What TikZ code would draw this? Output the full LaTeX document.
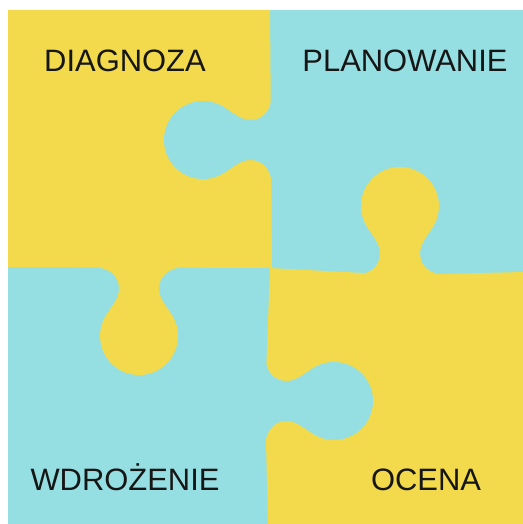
\documentclass[tikz,border=0pt]{standalone}
\usepackage{fontspec}
\setmainfont{Liberation Sans}
\usepackage{tikz}
\usetikzlibrary{positioning}
\usepackage{xcolor}

\definecolor{puzzleyellow}{RGB}{242,218,76}
\definecolor{puzzlecyan}{RGB}{149,223,226}
\definecolor{labelink}{RGB}{22,22,22}

% knob: colour, x, y, rotation (local axis points along +y)
\newcommand{\knob}[4]{%
  \fill[#1, shift={(#2,#3)}, rotate=#4]
    (-48,-3) -- (-48,0) .. controls (-28,0) and (-20,10) .. (-20,22)
    .. controls (-20,32) and (-28.8,40.8) .. (-33.8,49.5)
    arc[start angle=210, end angle=-30, radius=39]
    .. controls (28.8,40.8) and (20,32) .. (20,22)
    .. controls (20,10) and (28,0) .. (48,0) -- (48,-3) -- cycle;}

\begin{document}
\begin{tikzpicture}[
            x=0.05cm, y=0.05cm,
            piece/.style={fill=#1},
            label/.style={
                anchor=base,
                inner sep=0pt,
                text=labelink,
                font=\fontsize{44}{52}\selectfont
            }
        ]
        \useasboundingbox (0,0) rectangle (523,524);

        % board
        \fill[piece=puzzlecyan] (8,0) rectangle (523,514);
        \fill[piece=puzzleyellow] (8,514) -- (270,514) -- (272,256) -- (8,257) -- cycle;
        \fill[piece=puzzleyellow] (270,256) -- (400,249) -- (523,252) -- (523,0)
            -- (268,0) -- (265,123) -- cycle;

        % knobs
        \knob{puzzlecyan}{272}{384}{90}
        \knob{puzzleyellow}{400}{249}{0}
        \knob{puzzleyellow}{139}{257}{180}
        \knob{puzzlecyan}{265}{123}{-90}

        \node[label] (diag) at (125,452) {DIAGNOZA};
        \node[label] (plan) at (405,452) {PLANOWANIE};
        \node[label] (wdro) at (125,33) {WDROŻENIE};
        \node[label] (ocena) at (426,33) {OCENA};

        \end{tikzpicture}
\end{document}
